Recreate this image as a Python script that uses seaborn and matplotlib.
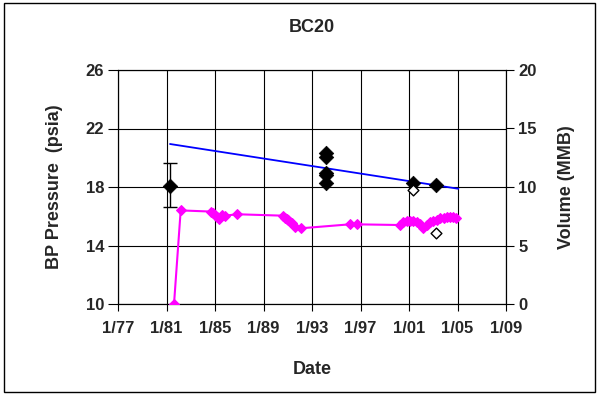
import numpy as np
import pandas as pd
import matplotlib
matplotlib.use('Agg')
import matplotlib.pyplot as plt
from matplotlib.patches import Rectangle
import seaborn as sns

# ---- data (decimal years) ----
volume_years = [1981.62, 1982.17, 1984.65, 1984.86, 1985.00, 1985.14, 1985.35, 1985.55, 1985.82,
                1986.84, 1990.58, 1990.77, 1990.90, 1991.04, 1991.20, 1991.33, 1991.60, 1992.07,
                1996.13, 1996.68, 2000.26, 2000.53, 2000.80, 2001.08, 2001.35, 2001.63, 2001.90,
                2002.18, 2002.46, 2002.75, 2003.00, 2003.30, 2003.55, 2003.85, 2004.11, 2004.40,
                2004.65, 2004.88]
volume_mmb = [0.0, 8.0, 7.9, 7.75, 7.6, 7.45, 7.26, 7.6, 7.55,
              7.67, 7.55, 7.32, 7.25, 7.18, 7.0, 6.9, 6.61, 6.47,
              6.81, 6.81, 6.75, 7.03, 7.1, 7.12, 7.1, 7.03, 6.8,
              6.47, 6.75, 7.0, 7.12, 7.2, 7.32, 7.35, 7.41, 7.4,
              7.41, 7.35]

bp_years = [1981.29, 1994.15, 1994.15, 1994.15, 1994.15, 1994.15, 2001.36, 2003.23]
bp_psia = [18.1, 20.3, 20.05, 18.95, 18.8, 18.25, 18.3, 18.14]

bp_err_year = 1981.29
bp_err_value = 18.1
bp_err_low = 16.6
bp_err_high = 19.65

open_years = [2001.36, 2003.23]
open_psia = [17.78, 14.87]

trend_years = [1981.29, 2005.07]
trend_psia = [20.94, 17.88]

x_ticks = [1977, 1981, 1985, 1989, 1993, 1997, 2001, 2005, 2009]
x_tick_labels = ['1/77', '1/81', '1/85', '1/89', '1/93', '1/97', '1/01', '1/05', '1/09']
left_ticks = [10, 14, 18, 22, 26]
right_ticks = [0, 5, 10, 15, 20]

# ---- style ----
sns.set_style('white')
plt.rcParams['font.family'] = ['Liberation Sans', 'DejaVu Sans']
plt.rcParams['font.weight'] = 'bold'
plt.rcParams['font.size'] = 12

FS = 12
FS_LAB = 13

fig = plt.figure(figsize=(6.0, 3.97), dpi=100)
ax = fig.add_axes([118 / 600, 1 - 304 / 397, 388 / 600, 234 / 397])
ax2 = ax.twinx()

# trend line and pressure points on left axis
sns.lineplot(x=trend_years, y=trend_psia, ax=ax, color='#0000ff', lw=1.3, zorder=3)
ax.errorbar(bp_err_year, bp_err_value,
            yerr=[[bp_err_value - bp_err_low], [bp_err_high - bp_err_value]],
            fmt='none', ecolor='black', elinewidth=1.0, capsize=5, capthick=1.0, zorder=4)
sns.scatterplot(x=bp_years, y=bp_psia, ax=ax, marker='D', color='black', s=55,
                edgecolor='black', linewidth=0.5, zorder=5)
sns.scatterplot(x=open_years, y=open_psia, ax=ax, marker='D', color='white', s=30,
                edgecolor='black', linewidth=1.0, zorder=5)

# volume on right axis
vol = pd.DataFrame({'year': volume_years, 'mmb': volume_mmb})
sns.lineplot(data=vol, x='year', y='mmb', ax=ax2, color='#ff00ff', lw=1.5,
             marker='D', markersize=5.5, markeredgecolor='#ff00ff', sort=False, zorder=3)

ax.set_xlim(1977, 2009)
ax.set_ylim(10, 26)
ax2.set_ylim(0, 20)
ax.set_xticks(x_ticks)
ax.set_xticklabels(x_tick_labels, fontweight='bold', fontsize=FS)
ax.set_yticks(left_ticks)
ax.set_yticklabels([str(t) for t in left_ticks], fontweight='bold', fontsize=FS)
ax2.set_yticks(right_ticks)
ax2.set_yticklabels([str(t) for t in right_ticks], fontweight='bold', fontsize=FS)

ax.grid(True, color='black', lw=0.8)
ax.set_axisbelow(True)
for a in (ax, ax2):
    for s in a.spines.values():
        s.set_color('black')
        s.set_linewidth(0.8)
ax.tick_params(axis='x', direction='out', length=5, width=0.8, color='black', pad=7, bottom=True)
ax.tick_params(axis='y', direction='out', length=7, width=0.8, color='black', pad=3, left=True)
ax2.tick_params(axis='y', direction='out', length=6, width=0.8, color='black', pad=3, right=True)

ax.set_xlabel('Date', fontweight='bold', fontsize=FS_LAB)
ax.xaxis.set_label_coords(0.5, -0.243)
ax.set_ylabel('BP Pressure  (psia)', fontweight='bold', fontsize=FS_LAB)
ax.yaxis.set_label_coords(-0.142, 0.5)
ax2.set_ylabel('Volume (MMB)', fontweight='bold', fontsize=FS_LAB)
ax2.yaxis.set_label_coords(1.134, 0.5)

fig.text(312 / 600, 1 - 28 / 397, 'BC20', ha='center', va='center', fontweight='bold', fontsize=FS_LAB)

fig.patches.append(Rectangle((4 / 600, 5 / 397), 591 / 600, 389 / 397, transform=fig.transFigure,
                             fill=False, edgecolor='black', lw=1.0))

fig.savefig('out.png', dpi=100)
